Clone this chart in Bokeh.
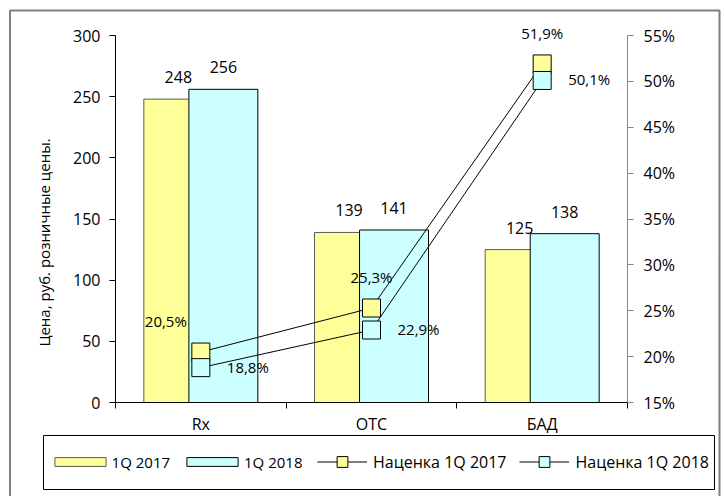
from math import pi
from bokeh.plotting import figure
from bokeh.models import (Range1d, LinearAxis, FixedTicker, ColumnDataSource,
                          Legend, LegendItem, BoxAnnotation, Label)
from bokeh.transform import dodge
from bokeh.core.properties import value
from bokeh.embed import file_html
from bokeh.resources import INLINE

# ---- data ----
categories = ["Rx", "OTC", "БАД"]
price_2017 = [248, 139, 125]
price_2018 = [256, 141, 138]
markup_2017 = [20.5, 25.3, 51.9]
markup_2018 = [18.8, 22.9, 50.1]
left_ticks = [0, 50, 100, 150, 200, 250, 300]
right_ticks = [15, 20, 25, 30, 35, 40, 45, 50, 55]
series_names = ["1Q 2017", "1Q 2018", "Наценка 1Q 2017", "Наценка 1Q 2018"]
y_label = "Цена, руб. розничные цены."

# ---- layout (pixels) ----
W, H = 724, 496
PL, PR, PT, PB = 115, 627, 35, 402   # plot area edges on the canvas

# ---- style ----
FONT = "Open Sans"
YELLOW = "#FFFF99"
CYAN = "#CCFFFF"
BAR_W = 0.404
DODGE = 0.132
label17_dx = [-35, 0, 0]


def pct(v):
    return f"{v:.1f}%".replace(".", ",")


def span(lo, hi, p_lo, p_hi, total, flip=False):
    # data range covering the whole canvas so that lo..hi sits at pixels p_lo..p_hi
    k = (hi - lo) / (p_hi - p_lo)
    if flip:
        return Range1d(lo - (total - p_hi) * k, hi + p_lo * k)
    return Range1d(lo - p_lo * k, hi + (total - p_hi) * k)


centers = [i + 0.5 for i in range(len(categories))]
bounds = list(range(len(categories) + 1))

src = ColumnDataSource(dict(
    x=centers, p17=price_2017, p18=price_2018, m17=markup_2017, m18=markup_2018,
    p17_t=[str(v) for v in price_2017], p18_t=[str(v) for v in price_2018],
    m17_t=[pct(v) for v in markup_2017], m18_t=[pct(v) for v in markup_2018],
    dx17=label17_dx,
))

x_rng = span(bounds[0], bounds[-1], PL, PR, W)
y_rng = span(left_ticks[0], left_ticks[-1], PT, PB, H, flip=True)
r_rng = span(right_ticks[0], right_ticks[-1], PT, PB, H, flip=True)

p = figure(width=W, height=H, x_range=x_rng, y_range=y_rng,
           output_backend="svg", toolbar_location=None, tools="",
           x_axis_type=None, y_axis_type=None, min_border=0)
p.min_border_left = p.min_border_right = p.min_border_top = p.min_border_bottom = 0
p.outline_line_color = None
p.background_fill_color = "white"
p.border_fill_color = "white"
p.extra_y_ranges = {"pct": r_rng}

# bars
b17 = p.vbar(x=dodge("x", -DODGE), top="p17", bottom=0, width=BAR_W, source=src,
             fill_color=YELLOW, line_color="#5a5a5a", line_width=1)
b18 = p.vbar(x=dodge("x", DODGE), top="p18", bottom=0, width=BAR_W, source=src,
             fill_color=CYAN, line_color="black", line_width=1)

# markup lines
l17 = p.line("x", "m17", source=src, y_range_name="pct", line_color="black", line_width=1)
l18 = p.line("x", "m18", source=src, y_range_name="pct", line_color="black", line_width=1)
s17 = p.scatter("x", "m17", source=src, y_range_name="pct", marker="square", size=18,
                fill_color=YELLOW, line_color="black", line_width=1)
s18 = p.scatter("x", "m18", source=src, y_range_name="pct", marker="square", size=18,
                fill_color=CYAN, line_color="black", line_width=1)

# labels
common = dict(text_font=value(FONT), text_font_size="16px", text_color="black",
              text_baseline="alphabetic", source=src)
p.text(x=dodge("x", -DODGE), y="p17", text="p17_t", text_align="center", y_offset=-22, **common)
p.text(x=dodge("x", DODGE), y="p18", text="p18_t", text_align="center", y_offset=-22, **common)
common_pct = dict(common, text_font_size="15px")
p.text(x="x", y="m17", text="m17_t", y_range_name="pct", text_align="center",
       x_offset="dx17", y_offset=-31, **common_pct)
p.text(x="x", y="m18", text="m18_t", y_range_name="pct", text_align="left",
       x_offset=26, y_offset=-1, **common_pct)

# axes (drawn at fixed places inside the canvas)
yax = LinearAxis(ticker=FixedTicker(ticks=left_ticks), fixed_location=bounds[0],
                 bounds=(left_ticks[0], left_ticks[-1]))
yax.major_tick_out = 6
yax.major_tick_in = 0
yax.major_label_standoff = 9
yax.axis_line_color = "black"
yax.major_tick_line_color = "black"
yax.major_label_text_font = FONT
yax.major_label_text_font_size = "16px"
yax.major_label_text_color = "black"
p.add_layout(yax, "left")

rax = LinearAxis(y_range_name="pct", ticker=FixedTicker(ticks=right_ticks),
                 fixed_location=bounds[-1], bounds=(right_ticks[0], right_ticks[-1]),
                 major_label_overrides={t: f"{t}%" for t in right_ticks})
rax.major_tick_out = 6
rax.major_tick_in = 0
rax.major_label_standoff = 10
rax.axis_line_color = "#868686"
rax.major_tick_line_color = "#868686"
rax.major_label_text_font = FONT
rax.major_label_text_font_size = "16px"
rax.major_label_text_color = "black"
p.add_layout(rax, "right")

xax = LinearAxis(ticker=FixedTicker(ticks=centers, minor_ticks=bounds),
                 fixed_location=left_ticks[0], bounds=(bounds[0], bounds[-1]),
                 major_label_overrides={c: n for c, n in zip(centers, categories)})
xax.major_tick_out = 0
xax.major_tick_in = 0
xax.minor_tick_out = 6
xax.minor_tick_in = 0
xax.minor_tick_line_color = "black"
xax.axis_line_color = "black"
xax.major_label_standoff = 4
xax.major_label_text_font = FONT
xax.major_label_text_font_size = "16px"
xax.major_label_text_color = "black"
p.add_layout(xax, "below")

p.add_layout(Label(x=43, y=H - 242, x_units="screen", y_units="screen", text=y_label,
                   angle=pi / 2, text_align="center", text_baseline="middle",
                   text_font=FONT, text_font_size="15px", text_color="black"))

# legends
leg_common = dict(orientation="horizontal", padding=0, margin=0, border_line_color=None,
                  background_fill_alpha=0, label_text_font=FONT, label_text_color="black")
legA = Legend(items=[LegendItem(label=series_names[0], renderers=[b17]),
                     LegendItem(label=series_names[1], renderers=[b18])],
              glyph_width=64, glyph_height=11, label_standoff=0, spacing=10,
              label_text_font_size="15px", location=(47.6, 24.3), **leg_common)
legB = Legend(items=[LegendItem(label=series_names[2], renderers=[l17, s17]),
                     LegendItem(label=series_names[3], renderers=[l18, s18])],
              glyph_width=50, glyph_height=27, label_standoff=6, spacing=13,
              label_text_font_size="16px", location=(317, 21), **leg_common)
p.add_layout(legA, "center")
p.add_layout(legB, "center")

# legend box and outer chart border
p.add_layout(BoxAnnotation(left=43, right=714, top=435, bottom=489,
                           left_units="canvas", right_units="canvas",
                           top_units="canvas", bottom_units="canvas",
                           fill_alpha=0, line_color="black", line_width=1, line_alpha=1))
p.add_layout(BoxAnnotation(left=9.5, right=719, top=10, bottom=H + 40,
                           left_units="canvas", right_units="canvas",
                           top_units="canvas", bottom_units="canvas",
                           fill_alpha=0, line_color="#7f7f7f", line_width=2, line_alpha=1))

open("out.html", "w").write(file_html(p, INLINE))
